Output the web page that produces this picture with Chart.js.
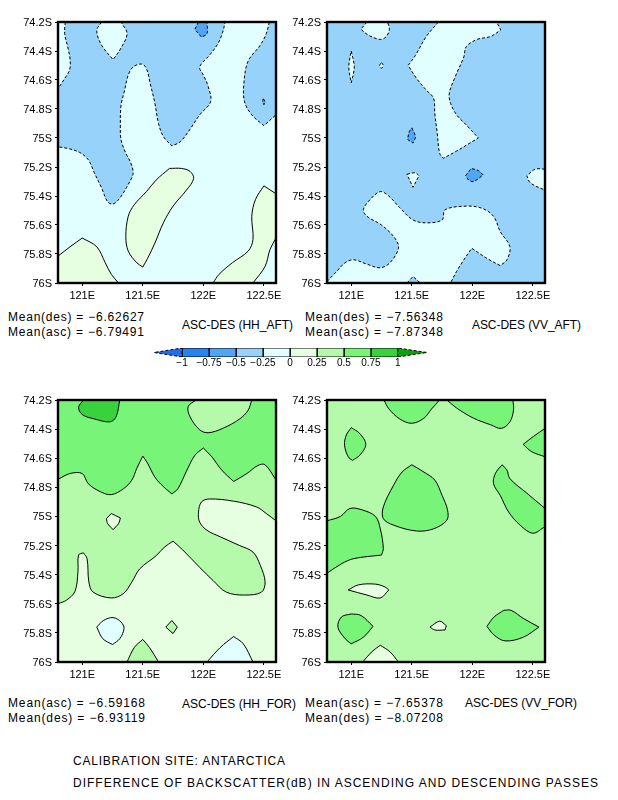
<!DOCTYPE html>
<html><head><meta charset="utf-8">
<script src="https://cdn.jsdelivr.net/npm/chart.js@4"></script>
<style>
html,body{margin:0;padding:0;background:#fff;width:618px;height:800px;overflow:hidden}
canvas{position:absolute}
.t{position:absolute;font-family:"Liberation Sans",Arial,sans-serif;font-size:12px;line-height:14px;color:#000;white-space:pre;transform-origin:0 0}
</style></head><body>
<script>
// value bands (lower bound of each colour band)
const levels=[-1.25,-1,-0.75,-0.5,-0.25,0,0.25,0.5,0.75,1];
const bandColors=['#1e6eeb','#2882f0','#50a5f5','#96d2fa','#e1ffff','#e6ffe1','#b4faaa','#78f578','#37d23c','#0fa00f'];
const barLevels=[-1,-0.75,-0.5,-0.25,0,0.25,0.5,0.75,1];
const lonTicks=[121,121.5,122,122.5];
const latTicks=[74.2,74.4,74.6,74.8,75,75.2,75.4,75.6,75.8,76];
const domain=[[120.8,74.2],[122.6,74.2],[122.6,76],[120.8,76],[120.8,74.2]];

// HH_AFT contours [lon, lat]
const hhAftMain=[[120.86,74.2],[120.855,74.28],[120.88,74.37],[120.9,74.46],[120.896,74.53],[120.855,74.59],[120.8,74.66],[120.8,75.06],[120.896,75.075],[120.98,75.1],[121.05,75.15],[121.1,75.24],[121.16,75.345],[121.21,75.44],[121.255,75.455],[121.31,75.415],[121.38,75.32],[121.42,75.245],[121.4,75.17],[121.36,75.105],[121.32,75.01],[121.315,74.92],[121.32,74.78],[121.35,74.67],[121.38,74.565],[121.42,74.51],[121.49,74.49],[121.53,74.52],[121.56,74.62],[121.6,74.76],[121.63,74.9],[121.67,74.99],[121.74,75.055],[121.81,75.025],[121.89,74.94],[121.97,74.84],[122.06,74.75],[122.04,74.645],[122,74.565],[121.97,74.51],[122.05,74.43],[122.12,74.35],[122.16,74.27],[122.18,74.2],[120.86,74.2]];
const hhAftHole=[[121.16,74.2],[121.12,74.26],[121.16,74.36],[121.255,74.46],[121.32,74.38],[121.37,74.28],[121.32,74.2],[121.16,74.2]];
const hhAftDark=[[121.96,74.2],[121.93,74.25],[121.985,74.305],[122.03,74.28],[122.03,74.2],[121.96,74.2]];
const hhAftRight=[[122.545,74.2],[122.52,74.28],[122.47,74.36],[122.37,74.47],[122.335,74.62],[122.34,74.75],[122.4,74.84],[122.5,74.915],[122.6,74.84],[122.6,74.2],[122.545,74.2]];
const hhAftSpot=[[122.495,74.73],[122.51,74.75],[122.5,74.77],[122.49,74.75],[122.495,74.73]];
const hhAftGreenMid=[[121.72,75.21],[121.82,75.21],[121.89,75.23],[121.92,75.28],[121.86,75.36],[121.75,75.47],[121.67,75.585],[121.6,75.725],[121.54,75.83],[121.5,75.89],[121.45,75.86],[121.38,75.78],[121.36,75.68],[121.38,75.54],[121.43,75.46],[121.53,75.37],[121.61,75.29],[121.72,75.21]];
const hhAftGreenLeft=[[120.8,75.815],[120.9,75.75],[121,75.69],[121.12,75.75],[121.19,75.86],[121.24,75.94],[121.3,76],[120.8,76],[120.8,75.815]];
const hhAftGreenRight=[[122.08,76],[122.13,75.94],[122.24,75.86],[122.37,75.78],[122.41,75.7],[122.4,75.54],[122.43,75.425],[122.5,75.33],[122.6,75.385],[122.6,75.69],[122.55,75.77],[122.51,75.885],[122.41,76],[122.08,76]];

// VV_AFT contours
const vvAftTop=[[121.72,74.2],[121.62,74.3],[121.53,74.43],[121.47,74.5],[121.54,74.59],[121.62,74.67],[121.68,74.725],[121.69,74.83],[121.71,74.965],[121.73,75.105],[121.76,75.14],[121.87,75.09],[121.98,75.035],[122.05,75],[121.95,74.91],[121.87,74.84],[121.82,74.76],[121.81,74.69],[121.86,74.575],[121.93,74.44],[121.95,74.37],[122.04,74.32],[122.15,74.3],[122.235,74.255],[122.2,74.2],[121.72,74.2]];
const vvAftTopLeft=[[121.13,74.2],[121.08,74.25],[121.14,74.29],[121.24,74.32],[121.29,74.3],[121.315,74.25],[121.3,74.2],[121.13,74.2]];
const vvAftLens=[[121,74.4],[121.025,74.51],[121,74.62],[120.98,74.51],[121,74.4]];
const vvAftTiny=[[121.25,74.48],[121.265,74.5],[121.25,74.52],[121.235,74.5],[121.25,74.48]];
const vvAftDarkA=[[121.5,74.93],[121.53,74.99],[121.51,75.035],[121.465,75.01],[121.48,74.955],[121.5,74.93]];
const vvAftTri=[[121.46,75.25],[121.53,75.24],[121.56,75.26],[121.51,75.34],[121.46,75.25]];
const vvAftDarkB=[[121.945,75.26],[121.99,75.21],[122.05,75.225],[122.09,75.255],[122.01,75.3],[121.97,75.29],[121.945,75.26]];
const vvAftRight=[[122.6,75.215],[122.52,75.215],[122.45,75.26],[122.48,75.31],[122.6,75.36],[122.6,75.215]];
const vvAftBottom=[[120.8,75.99],[120.88,75.92],[120.95,75.86],[121.02,75.84],[121.13,75.87],[121.24,75.895],[121.32,75.86],[121.39,75.76],[121.36,75.69],[121.25,75.6],[121.13,75.54],[121.1,75.495],[121.155,75.425],[121.24,75.37],[121.31,75.4],[121.4,75.48],[121.51,75.565],[121.62,75.585],[121.75,75.565],[121.775,75.495],[121.95,75.47],[122.08,75.485],[122.175,75.54],[122.23,75.645],[122.31,75.75],[122.285,75.84],[122.23,75.88],[122.12,75.83],[121.995,75.76],[121.93,75.84],[121.87,75.92],[121.82,76],[120.8,76],[120.8,75.99]];
const vvAftNotch=[[121.46,76],[121.51,75.955],[121.57,76],[121.46,76]];

// HH_FOR contours
const hhForBand=[[120.8,75.6],[120.87,75.575],[120.94,75.515],[120.965,75.38],[120.97,75.265],[121.01,75.25],[121.04,75.29],[121.055,75.45],[121.09,75.52],[121.24,75.56],[121.34,75.53],[121.41,75.45],[121.475,75.36],[121.61,75.27],[121.68,75.21],[121.75,75.17],[121.83,75.23],[121.97,75.35],[122.08,75.44],[122.19,75.52],[122.34,75.54],[122.48,75.52],[122.51,75.45],[122.47,75.335],[122.41,75.245],[122.3,75.2],[122.14,75.14],[122.03,75.095],[121.97,75.04],[121.96,74.97],[121.985,74.9],[122.05,74.88],[122.25,74.895],[122.44,74.935],[122.52,74.98],[122.6,75.03],[122.6,74.2],[120.8,74.2],[120.8,75.6]];
const hhForTop=[[120.8,74.745],[120.9,74.705],[121,74.705],[121.05,74.775],[121.15,74.83],[121.24,74.85],[121.34,74.81],[121.41,74.75],[121.45,74.67],[121.5,74.585],[121.54,74.635],[121.6,74.73],[121.67,74.795],[121.74,74.845],[121.79,74.81],[121.86,74.69],[121.93,74.58],[122,74.53],[122.07,74.59],[122.15,74.68],[122.25,74.76],[122.36,74.705],[122.45,74.65],[122.51,74.645],[122.6,74.75],[122.6,74.2],[120.8,74.2],[120.8,74.745]];
const hhForDark=[[121.01,74.2],[120.97,74.25],[121,74.3],[121.1,74.33],[121.23,74.35],[121.28,74.315],[121.31,74.2],[121.01,74.2]];
const hhForPale=[[121.94,74.2],[121.875,74.245],[121.89,74.315],[121.97,74.405],[122.04,74.425],[122.16,74.395],[122.3,74.33],[122.37,74.27],[122.4,74.2],[121.94,74.2]];
const hhForHole=[[121.2,75.015],[121.24,74.98],[121.315,75.01],[121.3,75.05],[121.255,75.09],[121.21,75.05],[121.2,75.015]];
const hhForBlueA=[[121.12,75.76],[121.175,75.715],[121.255,75.695],[121.32,75.725],[121.345,75.77],[121.31,75.84],[121.25,75.88],[121.17,75.84],[121.12,75.76]];
const hhForSpot=[[121.69,75.76],[121.74,75.715],[121.785,75.76],[121.75,75.805],[121.69,75.76]];
const hhForHill=[[121.37,76],[121.43,75.9],[121.5,75.845],[121.555,75.9],[121.63,76],[121.37,76]];
const hhForBlueB=[[122.03,76],[122.14,75.9],[122.25,75.825],[122.33,75.875],[122.41,76],[122.03,76]];

// VV_FOR contours
const vvForTopA=[[121.27,74.2],[121.31,74.26],[121.4,74.33],[121.5,74.36],[121.6,74.325],[121.665,74.26],[121.73,74.2],[121.27,74.2]];
const vvForTopB=[[121.79,74.2],[121.87,74.255],[122.01,74.325],[122.15,74.37],[122.24,74.395],[122.31,74.35],[122.34,74.27],[122.335,74.2],[121.79,74.2]];
const vvForEdge=[[122.6,74.395],[122.505,74.45],[122.42,74.505],[122.49,74.555],[122.6,74.59],[122.6,74.395]];
const vvForSmall=[[121,74.39],[120.96,74.44],[120.945,74.51],[120.975,74.59],[121.01,74.615],[121.07,74.58],[121.12,74.505],[121.07,74.43],[121,74.39]];
const vvForCentre=[[121.5,74.645],[121.42,74.695],[121.35,74.785],[121.265,74.935],[121.265,75.015],[121.35,75.06],[121.54,75.1],[121.68,75.085],[121.79,75.025],[121.795,74.955],[121.75,74.855],[121.69,74.75],[121.6,74.695],[121.5,74.645]];
const vvForRight=[[122.245,74.645],[122.19,74.705],[122.175,74.775],[122.23,74.855],[122.3,74.97],[122.395,75.06],[122.5,75.115],[122.6,75.07],[122.6,74.945],[122.45,74.84],[122.31,74.74],[122.285,74.68],[122.245,74.645]];
const vvForLeft=[[120.8,75.03],[120.91,75],[120.99,74.945],[121.09,74.955],[121.2,75],[121.24,75.085],[121.265,75.22],[121.25,75.265],[121.02,75.29],[120.92,75.325],[120.8,75.39],[120.8,75.03]];
const vvForLens=[[120.975,75.505],[121.06,75.47],[121.2,75.465],[121.28,75.485],[121.31,75.505],[121.24,75.56],[121.13,75.54],[120.975,75.505]];
const vvForDot=[[121.65,75.76],[121.73,75.72],[121.785,75.75],[121.775,75.78],[121.69,75.78],[121.65,75.76]];
const vvForPeak=[[121.095,76],[121.17,75.93],[121.24,75.885],[121.32,75.93],[121.39,76],[121.095,76]];
const vvForBlobA=[[121,75.67],[120.92,75.69],[120.89,75.76],[120.95,75.84],[121,75.875],[121.1,75.83],[121.18,75.755],[121.08,75.68],[121,75.67]];
const vvForBlobB=[[122.26,75.645],[122.18,75.69],[122.12,75.755],[122.18,75.815],[122.27,75.855],[122.42,75.83],[122.55,75.76],[122.42,75.7],[122.32,75.645],[122.26,75.645]];

// each contour: points, band it encloses, contour level (negative levels are dashed)
const hhAftContours=[[hhAftMain,-0.5,-0.25],[hhAftHole,-0.25,-0.25],[hhAftDark,-0.75,-0.5],[hhAftRight,-0.5,-0.25],[hhAftSpot,-0.75,-0.5],[hhAftGreenMid,0,0],[hhAftGreenLeft,0,0],[hhAftGreenRight,0,0]];
const vvAftContours=[[vvAftTop,-0.25,-0.25],[vvAftTopLeft,-0.25,-0.25],[vvAftLens,-0.25,-0.25],[vvAftTiny,-0.25,-0.25],[vvAftDarkA,-0.75,-0.5],[vvAftTri,-0.25,-0.25],[vvAftDarkB,-0.75,-0.5],[vvAftRight,-0.25,-0.25],[vvAftBottom,-0.25,-0.25],[vvAftNotch,-0.5,-0.25]];
const hhForContours=[[hhForBand,0.25,0.25],[hhForTop,0.5,0.5],[hhForDark,0.75,0.75],[hhForPale,0.25,0.5],[hhForHole,0,0.25],[hhForBlueA,-0.25,0],[hhForSpot,0.25,0.25],[hhForHill,0.25,0.25],[hhForBlueB,-0.25,0]];
const vvForContours=[[vvForTopA,0.5,0.5],[vvForTopB,0.5,0.5],[vvForEdge,0.5,0.5],[vvForSmall,0.5,0.5],[vvForCentre,0.5,0.5],[vvForRight,0.5,0.5],[vvForLeft,0.5,0.5],[vvForLens,0,0.25],[vvForDot,0,0.25],[vvForPeak,0,0.25],[vvForBlobA,0.5,0.5],[vvForBlobB,0.5,0.5]];

const captions=[
 ['Mean(des) = \u22126.62627',8,317,136],['Mean(asc) = \u22126.79491',8,332,136],['ASC-DES (HH_AFT)',182,325,111],
 ['Mean(des) = \u22127.56348',305,317,138],['Mean(asc) = \u22127.87348',305,332,138],['ASC-DES (VV_AFT)',472,325,109],
 ['Mean(asc) = \u22126.59168',8,703,137],['Mean(des) = \u22126.93119',8,718,137],['ASC-DES (HH_FOR)',182,704,114],
 ['Mean(asc) = \u22127.65378',305,703,138],['Mean(des) = \u22128.07208',305,718,138],['ASC-DES (VV_FOR)',465,703,112],
 ['CALIBRATION SITE: ANTARCTICA',73,761,212],['DIFFERENCE OF BACKSCATTER(dB) IN ASCENDING AND DESCENDING PASSES',73,783,525]
];

const colorOf=b=>bandColors[levels.indexOf(b)];
// points on the frame and sharp turns are repeated so the smoothing keeps them as corners
const onEdge=p=>p[0]===120.8||p[0]===122.6||p[1]===74.2||p[1]===76;
function pts(a){
  const out=[];
  a.forEach((p,i)=>{
    out.push({x:p[0],y:p[1]});
    if(i===0||i===a.length-1)return;
    const q=a[i-1],r=a[i+1];
    const ux=(p[0]-q[0])*121,uy=(p[1]-q[1])*145,vx=(r[0]-p[0])*121,vy=(r[1]-p[1])*145;
    const turn=Math.abs(Math.atan2(ux*vy-uy*vx,ux*vx+uy*vy))*180/Math.PI;
    if(onEdge(p)||turn>65)out.push({x:p[0],y:p[1]});
  });
  return out;
}
const frame={id:'frame',afterDatasetsDraw(c){const a=c.chartArea,x=c.ctx;x.save();x.strokeStyle='#000';x.lineWidth=2.4;x.strokeRect(a.left,a.top,a.width,a.height);x.restore();}};

function shape(points,fillCol,dashed,order,line,smooth){
  return {data:pts(points),showLine:true,fill:'shape',backgroundColor:fillCol,borderColor:line===false?'transparent':'#000',
    borderWidth:line===false?0:1,borderDash:dashed?[3,2]:[],pointRadius:0,tension:smooth?0.35:0,order};
}
function mkCanvas(l,t,w,h){const c=document.createElement('canvas');c.style.left=l+'px';c.style.top=t+'px';c.style.width=w+'px';c.style.height=h+'px';c.width=w;c.height=h;document.body.appendChild(c);return c;}

function panel(plotL,plotT,plotH,baseBand,contours){
  const leftW=58,topP=10,rightP=10,botH=24,w=leftW+218+rightP,h=topP+plotH+botH;
  const cv=mkCanvas(plotL-leftW,plotT-topP,w,h);
  const n=contours.length;
  const ds=[shape(domain,colorOf(baseBand),false,n+1,false,false)].concat(contours.map((c,i)=>shape(c[0],colorOf(c[1]),c[2]<0,n-i,true,true)));
  new Chart(cv,{type:'scatter',data:{datasets:ds},plugins:[frame],options:{
    responsive:false,animation:false,devicePixelRatio:1,
    layout:{padding:{top:topP,right:rightP,left:0,bottom:0}},
    plugins:{legend:{display:false},tooltip:{enabled:false},title:{display:false}},
    scales:{
      x:{type:'linear',min:120.8,max:122.6,afterBuildTicks:s=>{s.ticks=lonTicks.map(v=>({value:v}));},afterFit:s=>{s.height=botH;},
        grid:{drawOnChartArea:false,drawTicks:true,tickLength:3,color:'#000'},border:{display:false},
        ticks:{color:'#000',maxRotation:0,autoSkip:false,padding:3,font:{family:'Liberation Sans',size:11},callback:v=>(+v.toFixed(1))+'E'}},
      y:{type:'linear',reverse:true,min:74.2,max:76,afterBuildTicks:s=>{s.ticks=latTicks.map(v=>({value:v}));},afterFit:s=>{s.width=leftW;},
        grid:{drawOnChartArea:false,drawTicks:true,tickLength:3,color:'#000'},border:{display:false},
        ticks:{color:'#000',autoSkip:false,padding:3,labelOffset:1,font:{family:'Liberation Sans',size:11},callback:v=>(+v.toFixed(1))+'S'}}
    }}});
}
panel(58,22,261,-0.25,hhAftContours);
panel(327,22,261,-0.5,vvAftContours);
panel(58,400,262,0,hhForContours);
panel(327,400,262,0.25,vvForContours);

// colour bar
(function(){
  const cv=mkCanvas(134,342,313,28);
  const ds=[];
  barLevels.slice(0,-1).forEach((lo,i)=>{const hi=barLevels[i+1];
    ds.push(shape([[lo,0],[hi,0],[hi,1],[lo,1],[lo,0]],colorOf(lo),false,i+3,true,false));});
  ds.push(shape([[-1,0],[-1.26,0.5],[-1,1],[-1,0]],colorOf(-1.25),true,1,true,false));
  ds.push(shape([[1,0],[1.27,0.5],[1,1],[1,0]],colorOf(1),true,2,true,false));
  new Chart(cv,{type:'scatter',data:{datasets:ds},options:{
    responsive:false,animation:false,devicePixelRatio:1,
    layout:{padding:{left:20,right:20,top:6,bottom:0}},
    plugins:{legend:{display:false},tooltip:{enabled:false}},
    scales:{
      x:{type:'linear',min:-1.26,max:1.27,afterBuildTicks:s=>{s.ticks=barLevels.map(v=>({value:v}));},afterFit:s=>{s.height=13;},
        grid:{display:false,drawTicks:false,tickLength:0},border:{display:false},
        ticks:{color:'#000',maxRotation:0,autoSkip:false,padding:0,font:{family:'Liberation Sans',size:10},
          callback:v=>(v<0?'\u2212':'')+Math.abs(v)}},
      y:{display:false,min:0,max:1}
    }}});
})();

// captions as real text, stretched to their measured widths
captions.forEach(([s,x,y,w])=>{
  const d=document.createElement('div');d.className='t';d.textContent=s;d.style.left=x+'px';d.style.top=(y-7)+'px';
  document.body.appendChild(d);
  const m=d.getBoundingClientRect().width;
  d.style.letterSpacing=((w-m)/(s.length-1))+'px';
});
</script>
</body></html>
